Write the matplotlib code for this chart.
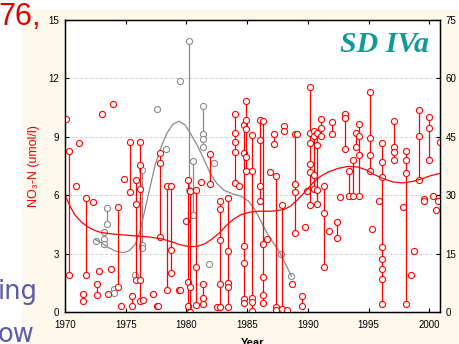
import matplotlib
matplotlib.use("Agg")
import matplotlib.pyplot as plt
from matplotlib.patches import Rectangle

# ---- NO3-N samples, SD IVa: one list of depth values per sampling date ----
red_dates = [
    1970.05, 1970.3, 1970.88, 1971.15, 1971.45, 1971.75, 1972.3, 1972.6, 1972.8,
    1973.05, 1973.5, 1973.75, 1973.95, 1974.33, 1974.62, 1974.87, 1975.33, 1975.55,
    1975.85, 1976.2, 1976.4, 1977.25, 1977.55, 1977.65, 1977.85, 1978.4, 1978.72,
    1979.4, 1979.5, 1980.0, 1980.15, 1980.3, 1980.75, 1981.2, 1981.35, 1981.95,
    1982.5, 1982.75, 1983.4, 1983.98, 1984.35, 1984.7, 1984.9, 1985.4, 1986.05,
    1986.3, 1986.65, 1986.9, 1987.17, 1987.4, 1987.9, 1988.05, 1988.3, 1988.72,
    1988.9, 1989.1, 1989.5, 1989.75, 1989.95, 1990.2, 1990.5, 1990.72, 1991.1,
    1991.32, 1991.75, 1992.02, 1992.4, 1992.68, 1993.06, 1993.35, 1993.7, 1994.0,
    1994.2, 1995.15, 1995.3, 1995.82, 1996.1, 1997.08, 1997.8, 1998.08, 1998.5,
    1998.75, 1999.15, 1999.55, 1999.97, 2000.3, 2000.55, 2000.7, 2000.88,
]
red_values = [
    [9.93], [8.29, 1.92], [6.47], [8.7], [0.92, 0.58], [5.86, 1.88], [5.63],
    [1.42, 0.86], [2.12], [10.15], [0.92], [2.2], [10.68], [5.41, 1.3], [0.32],
    [6.81], [8.74, 6.16], [0.84, 0.32], [6.77, 5.57, 1.66],
    [8.71, 7.57, 6.33, 1.62, 0.57], [0.62], [0.92], [0.32], [0.3],
    [8.18, 7.64, 3.83], [6.45, 1.12], [6.47, 3.2, 1.98], [1.12], [1.15], [4.66],
    [6.8, 1.55, 0.3], [6.2, 1.27, 0.02], [6.28, 2.3, 0.36], [6.68],
    [1.42, 0.74, 0.42], [8.1, 6.58], [0.24], [5.72, 5.27, 3.72, 1.45, 0.24],
    [5.86, 3.14, 1.5, 1.27, 0.24], [10.15, 9.19, 8.73, 8.21, 6.63], [6.46],
    [9.6, 8.18, 3.41, 2.53, 0.66, 0.48], [10.85, 9.88, 9.42, 7.95, 7.25],
    [9.07, 7.24, 0.7, 0.5, 0.04], [9.88, 8.85, 6.45, 5.7],
    [9.83, 3.49, 1.78, 0.86, 0.48], [3.75], [7.18], [9.16, 8.63],
    [6.98, 0.24, 0.1], [5.52, 0.15], [9.54, 9.31], [0.1], [1.42],
    [9.14, 6.57, 6.15, 4.06], [9.14], [0.8, 0.33], [4.35], [6.2],
    [11.55, 9.2, 8.68, 7.6, 7.2, 5.5], [9.3, 9.02, 7.05, 6.3],
    [9.2, 8.6, 6.28, 5.55], [9.9, 9.45, 9.02], [6.49, 5.1, 2.29], [4.14],
    [9.75, 9.14], [4.6, 3.82], [5.92], [10.15, 9.96, 8.37], [7.22, 5.96],
    [7.8, 5.96], [9.2, 8.5], [9.66, 9.02, 8.08, 5.94], [11.32, 8.95, 8.06, 7.22],
    [4.27], [5.72], [8.68, 7.7, 6.93, 3.36, 2.7, 2.2, 1.67, 0.39],
    [9.79, 8.5, 8.2, 7.8], [5.38], [8.29, 7.82, 7.13, 0.41], [1.92], [3.12],
    [10.4, 9.05, 6.76], [5.82, 5.72], [10.02, 9.44, 7.82], [5.96], [5.26],
    [5.7], [8.74],
]

gray_dates = [
    1972.55, 1973.25, 1973.45, 1974.0, 1975.75, 1976.3, 1977.56, 1978.3,
    1979.5, 1980.22, 1980.5, 1981.4, 1981.85, 1982.3, 1987.8, 1988.65,
]
gray_values = [
    [3.66], [4.09, 3.75, 3.5], [5.34, 4.54], [1.18, 1.0], [1.92],
    [7.3, 3.45, 3.3], [10.43], [8.36], [11.88], [13.9, 6.27], [7.75, 5.0],
    [10.6, 9.15, 8.9, 8.5], [2.48], [7.65], [2.98], [1.83],
]

# ---- smoothed trends ----
red_fit_years = [
    1970.0, 1970.4, 1970.8, 1971.3, 1971.8, 1972.4, 1973.0, 1974.0, 1975.0,
    1976.0, 1977.0, 1978.0, 1978.8, 1979.5, 1980.2, 1980.9, 1981.5, 1982.1,
    1982.7, 1983.3, 1983.9, 1984.5, 1985.2, 1986.0, 1987.0, 1988.0, 1988.6,
    1989.2, 1989.8, 1990.4, 1991.0, 1991.7, 1992.5, 1993.3, 1994.1, 1994.8,
    1995.5, 1996.2, 1997.0, 1997.8, 1998.6, 1999.4, 2000.2, 2000.9,
]
red_fit_values = [
    6.0, 5.45, 5.0, 4.65, 4.4, 4.2, 4.08, 4.0, 3.95, 3.9, 3.85, 3.75, 3.6,
    3.45, 3.36, 3.37, 3.5, 3.75, 4.05, 4.45, 4.78, 5.0, 5.13, 5.18, 5.18,
    5.25, 5.45, 5.8, 6.2, 6.62, 6.95, 7.2, 7.38, 7.48, 7.45, 7.3, 7.05, 6.85,
    6.68, 6.63, 6.7, 6.85, 7.02, 7.12,
]
gray_fit_years = [
    1972.5, 1973.0, 1973.6, 1974.2, 1974.8, 1975.3, 1975.8, 1976.2, 1976.6,
    1977.0, 1977.4, 1977.9, 1978.4, 1978.9, 1979.4, 1979.9, 1980.4, 1980.9,
    1981.4, 1981.9, 1982.5, 1983.1, 1983.8, 1984.5, 1985.1, 1985.6, 1986.1,
    1986.6, 1987.1, 1987.6, 1988.1, 1988.65,
]
gray_fit_values = [
    3.72, 3.55, 3.3, 3.12, 3.05, 3.15, 3.5, 4.2, 5.3, 6.4, 7.5, 8.45, 9.2,
    9.65, 9.8, 9.6, 9.1, 8.55, 7.9, 7.2, 6.6, 6.25, 6.07, 5.95, 5.7, 5.3,
    4.7, 4.1, 3.6, 3.15, 2.55, 1.83,
]

year_ticks = [1970, 1975, 1980, 1985, 1990, 1995, 2000]
no3_ticks = [0, 3, 6, 9, 12, 15]
right_ticks = [0, 15, 30, 45, 60, 75]

# ---- styling ----
W, H = 459, 344
CREAM = "#fdf8eb"
RED = "#ff0000"
GRAY = "#8a8a8a"
SANS = ["Liberation Sans", "DejaVu Sans"]

fig = plt.figure(figsize=(W / 100, H / 100), dpi=100, facecolor="white")
fig.patches.append(Rectangle((22 / W, 0), 1, (H - 9) / H, transform=fig.transFigure,
                             facecolor=CREAM, edgecolor="none", zorder=-10))

ax = fig.add_axes([65 / W, (H - 312) / H, 375 / W, 292 / H])
ax.set_facecolor("white")
ax.set_xlim(1970, 2000.88)
ax.set_ylim(0, 15)

marker_kw = dict(marker="o", markersize=4.4, markerfacecolor="white",
                 markeredgewidth=0.8, linewidth=0.9)

for d, vals in zip(gray_dates, gray_values):
    ax.plot([d] * len(vals), vals, color=GRAY, markeredgecolor=GRAY, zorder=3, **marker_kw)
ax.plot(gray_fit_years, gray_fit_values, color=GRAY, lw=0.9, zorder=4)

for d, vals in zip(red_dates, red_values):
    ax.plot([d] * len(vals), vals, color=RED, markeredgecolor=RED, zorder=5, **marker_kw)
ax.plot(red_fit_years, red_fit_values, color=RED, lw=0.9, zorder=6)

ax.set_xticks(year_ticks)
ax.set_yticks(no3_ticks)
ax.yaxis.grid(True, linestyle=(0, (2.2, 1.6, 0.6, 1.6)), color="#b8b8b8", lw=0.6)
ax.set_axisbelow(True)
ax.tick_params(axis="both", direction="in", length=3, width=0.8, labelsize=7,
               top=True, colors="black")
ax.tick_params(axis="y", pad=4)
ax.tick_params(axis="x", pad=6)
for s in ax.spines.values():
    s.set_linewidth(1.0)
for lab in ax.get_xticklabels() + ax.get_yticklabels():
    lab.set_family(SANS)

ax2 = ax.twinx()
ax2.set_ylim(0, 75)
ax2.set_yticks(right_ticks)
ax2.tick_params(axis="y", direction="in", length=3, width=0.8, labelsize=7, pad=4)
for lab in ax2.get_yticklabels():
    lab.set_family(SANS)

# axis titles
fig.text(34 / W, (H - 166) / H, "NO\u2083-N (umol/l)", rotation=90, color="#ee0000",
         fontsize=9, family=SANS, ha="center", va="center")
fig.text(253 / W, -1.5 / H, "Year", fontsize=8, fontweight="bold", family=SANS,
         ha="center", va="baseline")
fig.text(429 / W, (H - 52) / H, "SD IVa", color="#119a98", fontsize=21.5,
         fontweight="bold", fontstyle="italic", family=["Liberation Serif", "DejaVu Serif"],
         ha="right", va="baseline")

# surrounding slide text
fig.text(-1.5 / W, (H - 25) / H, "76,", color="#dd0000", fontsize=22, family=SANS,
         va="baseline", ha="left")
fig.text(-2 / W, (H - 299) / H, "ing", color="#5a5ca8", fontsize=18.5,
         family=["DejaVu Sans"], va="baseline", ha="left")
fig.text(-2 / W, (H - 341.5) / H, "ow", color="#5a5ca8", fontsize=18.5,
         family=["DejaVu Sans"], va="baseline", ha="left")

fig.savefig("out.png", dpi=100, facecolor=fig.get_facecolor())
